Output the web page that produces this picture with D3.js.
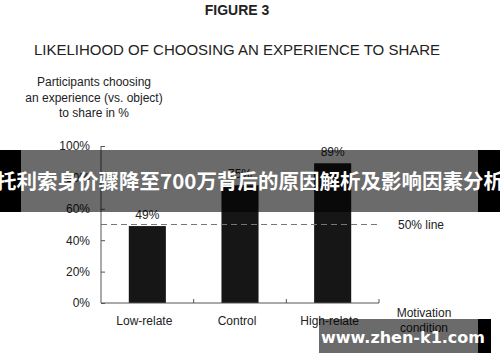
<!DOCTYPE html>
<html>
<head>
<meta charset="utf-8">
<script src="https://cdn.jsdelivr.net/npm/d3@7"></script>
<style>
  body { margin: 0; background: #fff; }
  text { font-family: "Liberation Sans", Arial, sans-serif; fill: #222; }
</style>
</head>
<body>
<script>
var categories = ["Low-relate", "Control", "High-relate"];
var values = [49, 75, 89];
var yTicks = [0, 20, 40, 60, 80, 100];
var refValue = 50;

var W = 500, H = 362;
var svg = d3.select("body").append("svg")
  .attr("width", W)
  .attr("height", H);

var x = d3.scaleBand()
  .domain(categories)
  .range([101, 379])
  .paddingInner(0.6)
  .paddingOuter(0.3);

var y = d3.scaleLinear()
  .domain([0, 100])
  .range([303, 146]);

// titles
svg.append("text")
  .attr("x", 237).attr("y", 15)
  .attr("text-anchor", "middle")
  .attr("font-size", 14).attr("font-weight", "bold")
  .text("FIGURE 3");

svg.append("text")
  .attr("x", 237).attr("y", 55)
  .attr("text-anchor", "middle")
  .attr("font-size", 15)
  .text("LIKELIHOOD OF CHOOSING AN EXPERIENCE TO SHARE");

var ytitle = ["Participants choosing", "an experience (vs. object)", "to share in %"];
svg.append("text")
  .attr("text-anchor", "middle")
  .attr("font-size", 12)
  .selectAll("tspan").data(ytitle).enter()
  .append("tspan")
  .attr("x", 94)
  .attr("y", (d, i) => 86 + i * 15.5)
  .text(d => d);

// bars
svg.selectAll("rect.bar").data(values).enter()
  .append("rect")
  .attr("class", "bar")
  .attr("x", (d, i) => x(categories[i]))
  .attr("y", d => y(d))
  .attr("width", x.bandwidth())
  .attr("height", d => y(0) - y(d))
  .attr("fill", "#161616");

// value labels
svg.selectAll("text.val").data(values).enter()
  .append("text")
  .attr("class", "val")
  .attr("x", (d, i) => x(categories[i]) + x.bandwidth() / 2)
  .attr("y", d => y(d) - 7)
  .attr("text-anchor", "middle")
  .attr("font-size", 12)
  .text(d => d + "%");

// 50% line
svg.append("line")
  .attr("x1", 101).attr("x2", 379)
  .attr("y1", y(refValue)).attr("y2", y(refValue))
  .attr("stroke", "#777")
  .attr("stroke-width", 1.2)
  .attr("stroke-dasharray", "6,4");

svg.append("text")
  .attr("x", 398).attr("y", y(refValue) + 4)
  .attr("font-size", 12)
  .text(refValue + "% line");

// y axis
var yAxis = svg.append("g")
  .attr("transform", "translate(101,0)")
  .call(d3.axisLeft(y).tickValues(yTicks).tickSize(-4).tickPadding(11).tickFormat(d => d + "%"));
yAxis.selectAll("text").attr("font-size", 12).attr("font-family", "Liberation Sans, Arial, sans-serif").attr("fill", "#222");
yAxis.selectAll("line, path").attr("stroke", "#555");
yAxis.select(".domain").attr("d", "M0," + y(100) + "V" + y(0));

// x axis
var bounds = [x.step() + 101, 2 * x.step() + 101];
var xAxis = svg.append("g")
  .attr("transform", "translate(0," + y(0) + ")");
xAxis.append("line")
  .attr("x1", 101).attr("x2", 379)
  .attr("stroke", "#555").attr("stroke-width", 1);
xAxis.append("line").attr("x1", 379).attr("x2", 379).attr("y1", 0).attr("y2", -4).attr("stroke", "#555");
xAxis.selectAll("line.tk").data(bounds).enter()
  .append("line")
  .attr("class", "tk")
  .attr("x1", d => d).attr("x2", d => d)
  .attr("y1", 0).attr("y2", -4)
  .attr("stroke", "#555");
xAxis.selectAll("text.cat").data(categories).enter()
  .append("text")
  .attr("class", "cat")
  .attr("x", d => x(d) + x.bandwidth() / 2 - 3)
  .attr("y", 22)
  .attr("text-anchor", "middle")
  .attr("font-size", 12)
  .text(d => d);

svg.append("text")
  .attr("text-anchor", "middle")
  .attr("font-size", 12)
  .selectAll("tspan").data(["Motivation", "condition"]).enter()
  .append("tspan")
  .attr("x", 424)
  .attr("y", (d, i) => 317 + i * 15)
  .text(d => d);

// banner overlay
svg.append("rect").attr("x", 0).attr("y", 150).attr("width", 21).attr("height", 62).attr("fill", "#000");
svg.append("rect").attr("x", 478).attr("y", 150).attr("width", 22).attr("height", 62).attr("fill", "#000");
svg.append("rect").attr("x", 21).attr("y", 150).attr("width", 457).attr("height", 62)
  .attr("fill", "#000").attr("fill-opacity", 0.58);
svg.append("text")
  .attr("x", 250).attr("y", 189)
  .attr("text-anchor", "middle")
  .attr("font-size", 20.5)
  .attr("font-weight", "bold")
  .style("font-family", "'Noto Sans CJK SC', sans-serif")
  .style("fill", "#fff")
  .text("托利索身价骤降至700万背后的原因解析及影响因素分析");

// watermark
svg.append("rect").attr("x", 478).attr("y", 319).attr("width", 13).attr("height", 34).attr("fill", "#000");
svg.append("rect").attr("x", 319).attr("y", 319).attr("width", 159).attr("height", 34)
  .attr("fill", "#000").attr("fill-opacity", 0.58);
svg.append("text")
  .attr("x", 403).attr("y", 343)
  .attr("text-anchor", "middle")
  .attr("font-size", 16)
  .attr("font-weight", "bold")
  .style("font-family", "'DejaVu Sans', sans-serif")
  .style("fill", "#fff")
  .text("www.zhen-k1.com");
</script>
</body>
</html>
